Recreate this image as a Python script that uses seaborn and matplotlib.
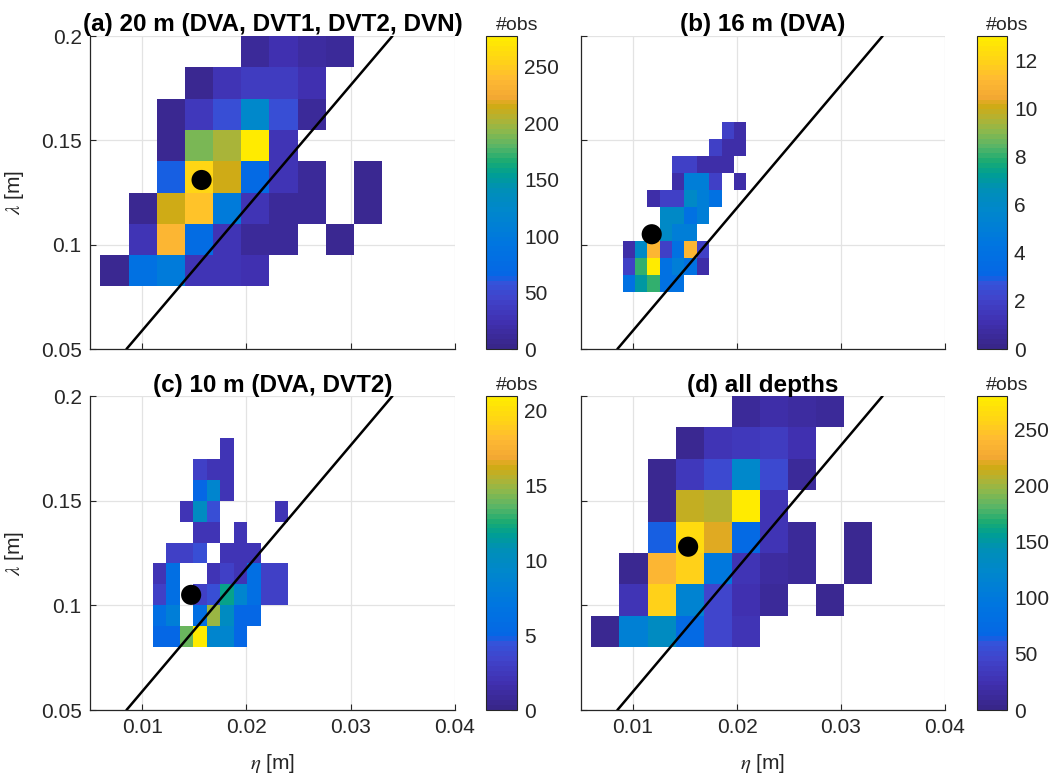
import numpy as np
import pandas as pd
import matplotlib
matplotlib.use("Agg")
import matplotlib.pyplot as plt
import seaborn as sns
from matplotlib.colors import LinearSegmentedColormap

# ---------------------------------------------------------------- data
# bin edges
eta_edges_20m = [0.0060, 0.0087, 0.0114, 0.0141, 0.0168, 0.0195,
                 0.0222, 0.0249, 0.0276, 0.0303, 0.0330]
lam_edges_20m = [0.080, 0.095, 0.110, 0.125, 0.140, 0.155, 0.170, 0.185, 0.200]
eta_edges_16m = [0.00900, 0.01019, 0.01138, 0.01257, 0.01376, 0.01495,
                 0.01614, 0.01733, 0.01852, 0.01971, 0.02090]
lam_edges_16m = [0.0771, 0.0853, 0.0934, 0.1016, 0.1098, 0.1180,
                 0.1261, 0.1343, 0.1425, 0.1506, 0.1588]
eta_edges_10m = [0.0110, 0.0123, 0.0136, 0.0149, 0.0162, 0.0175,
                 0.0188, 0.0201, 0.0214, 0.0227, 0.0240]
lam_edges_10m = [0.08, 0.09, 0.10, 0.11, 0.12, 0.13, 0.14, 0.15, 0.16, 0.17, 0.18]
eta_edges_all = eta_edges_20m
lam_edges_all = lam_edges_20m

# counts per cell, rows listed from the highest lambda bin down (0 = empty)
counts_20m = [
    [0, 0, 0, 0, 0, 10, 24, 14, 10, 0],
    [0, 0, 0, 8, 28, 38, 38, 22, 0, 0],
    [0, 0, 8, 32, 55, 125, 52, 10, 0, 0],
    [0, 0, 8, 190, 200, 274, 30, 0, 0, 0],
    [0, 0, 62, 258, 216, 72, 26, 10, 0, 8],
    [0, 8, 216, 243, 100, 28, 12, 12, 0, 8],
    [0, 30, 236, 75, 26, 12, 12, 0, 8, 0],
    [8, 85, 100, 26, 26, 24, 0, 0, 0, 0],
]
counts_16m = [
    [0, 0, 0, 0, 0, 0, 0, 0, 2, 1],
    [0, 0, 0, 0, 0, 0, 0, 2, 1, 1],
    [0, 0, 0, 0, 2, 2, 1, 1, 1, 0],
    [0, 0, 0, 0, 1, 5, 5, 2, 0, 1],
    [0, 0, 1, 2, 2, 6, 5, 4, 0, 0],
    [0, 0, 0, 6, 6, 4, 5, 0, 0, 0],
    [0, 0, 0, 6, 5, 5, 0, 0, 0, 0],
    [1, 6, 11, 2, 4, 11, 2, 0, 0, 0],
    [2, 8, 13, 4, 5, 4, 1, 0, 0, 0],
    [4, 7, 8, 4, 4, 0, 0, 0, 0, 0],
]
counts_10m = [
    [0, 0, 0, 0, 0, 2, 0, 0, 0, 0],
    [0, 0, 0, 3, 2, 2, 0, 0, 0, 0],
    [0, 0, 0, 5, 9, 2, 0, 0, 0, 0],
    [0, 0, 2, 10, 4, 0, 0, 0, 0, 2],
    [0, 0, 0, 2, 2, 0, 2, 0, 0, 0],
    [0, 3, 3, 4, 0, 2, 2, 2, 0, 0],
    [2, 6, 0, 0, 2, 3, 2, 6, 3, 3],
    [3, 6, 0, 3, 4, 12, 9, 6, 3, 3],
    [6, 8, 0, 6, 15, 10, 5, 5, 0, 0],
    [5, 5, 14, 21, 9, 9, 5, 0, 0, 0],
]
counts_all = [
    [0, 0, 0, 0, 0, 10, 20, 14, 10, 0],
    [0, 0, 0, 8, 28, 34, 36, 24, 0, 0],
    [0, 0, 8, 32, 52, 125, 52, 12, 0, 0],
    [0, 0, 8, 212, 206, 278, 30, 0, 0, 0],
    [0, 0, 62, 266, 221, 74, 28, 12, 0, 8],
    [0, 8, 238, 258, 100, 28, 14, 12, 0, 8],
    [0, 30, 255, 118, 48, 26, 12, 0, 8, 0],
    [8, 110, 135, 70, 48, 28, 0, 0, 0, 0],
]

panel_titles = ["(a) 20 m (DVA, DVT1, DVT2, DVN)", "(b) 16 m (DVA)",
                "(c) 10 m (DVA, DVT2)", "(d) all depths"]
color_max = [277, 13, 21, 280]
cbar_ticks = [[0, 50, 100, 150, 200, 250], [0, 2, 4, 6, 8, 10, 12],
              [0, 5, 10, 15, 20], [0, 50, 100, 150, 200, 250]]

# mean point of each panel
mean_eta = [0.0157, 0.0118, 0.0147, 0.0153]
mean_lam = [0.131, 0.105, 0.105, 0.128]

# straight reference line (same in every panel)
line_eta = [0.0085, 0.0340]
line_lam = [0.050, 0.200]

x_ticks = [0.01, 0.02, 0.03, 0.04]
x_tick_labels = ["0.01", "0.02", "0.03", "0.04"]
y_ticks = [0.05, 0.10, 0.15, 0.20]
y_tick_labels = ["0.05", "0.1", "0.15", "0.2"]

# ---------------------------------------------------------------- style
sns.set_theme(style="white")
plt.rcParams["font.family"] = ["Liberation Sans", "DejaVu Sans"]
plt.rcParams["mathtext.fontset"] = "stix"

# parula-like colormap as it appears in the picture
cmap_anchors = [
    (0.00, (0.22, 0.15, 0.54)),
    (0.08, (0.25, 0.19, 0.69)),
    (0.16, (0.25, 0.27, 0.80)),
    (0.21, (0.20, 0.33, 0.86)),
    (0.23, (0.02, 0.40, 0.90)),
    (0.33, (0.00, 0.46, 0.88)),
    (0.44, (0.00, 0.53, 0.80)),
    (0.51, (0.00, 0.56, 0.72)),
    (0.56, (0.00, 0.62, 0.58)),
    (0.60, (0.10, 0.67, 0.45)),
    (0.65, (0.35, 0.71, 0.40)),
    (0.70, (0.55, 0.72, 0.30)),
    (0.74, (0.70, 0.70, 0.20)),
    (0.78, (0.82, 0.67, 0.08)),
    (0.81, (0.95, 0.66, 0.20)),
    (0.87, (1.00, 0.73, 0.20)),
    (0.92, (1.00, 0.82, 0.10)),
    (1.00, (1.00, 0.92, 0.00)),
]
parula = LinearSegmentedColormap.from_list("parula_like", cmap_anchors, N=64)

AX_COLOR = "#262626"
GRID_COLOR = "#e3e3e3"
TICK_FS = 15
TITLE_FS = 17.5


def to_frame(counts, eta_edges, lam_edges):
    n_rows = len(lam_edges) - 1
    recs = []
    for r, row in enumerate(counts):
        j = n_rows - 1 - r
        lam_c = 0.5 * (lam_edges[j] + lam_edges[j + 1])
        for i, n in enumerate(row):
            if n > 0:
                recs.append({"eta": 0.5 * (eta_edges[i] + eta_edges[i + 1]),
                             "lam": lam_c, "n": n})
    return pd.DataFrame(recs)


panel_counts = [counts_20m, counts_16m, counts_10m, counts_all]
panel_eta_edges = [eta_edges_20m, eta_edges_16m, eta_edges_10m, eta_edges_all]
panel_lam_edges = [lam_edges_20m, lam_edges_16m, lam_edges_10m, lam_edges_all]

W, H = 1056, 782
fig = plt.figure(figsize=(W / 100, H / 100), dpi=100)

# pixel boxes (left, top, right, bottom) of axes and colorbars
ax_boxes = [(90, 36, 455, 349), (581, 36, 945, 349),
            (90, 396, 455, 710), (581, 396, 945, 710)]
cb_boxes = [(486, 36, 517, 349), (977, 36, 1007, 349),
            (486, 396, 517, 710), (977, 396, 1007, 710)]


def frac(box):
    l, t, r, b = box
    return [l / W, 1 - b / H, (r - l) / W, (b - t) / H]


for k in range(4):
    ax = fig.add_axes(frac(ax_boxes[k]))
    cax = fig.add_axes(frac(cb_boxes[k]))
    df = to_frame(panel_counts[k], panel_eta_edges[k], panel_lam_edges[k])

    ax.set_axisbelow(True)
    ax.grid(True, color=GRID_COLOR, linewidth=0.9)

    sns.histplot(data=df, x="eta", y="lam", weights="n",
                 bins=(panel_eta_edges[k], panel_lam_edges[k]),
                 cmap=parula, vmin=0, vmax=color_max[k],
                 cbar=True, cbar_ax=cax, ax=ax, linewidth=0)

    sns.lineplot(x=line_eta, y=line_lam, color="black", linewidth=1.8,
                 ax=ax, zorder=3)
    sns.scatterplot(x=[mean_eta[k]], y=[mean_lam[k]], color="black", s=210,
                    edgecolor="none", ax=ax, zorder=4, legend=False)

    ax.set_xlim(0.005, 0.04)
    ax.set_ylim(0.05, 0.2)
    ax.set_xticks(x_ticks)
    ax.set_yticks(y_ticks)
    ax.grid(True, color=GRID_COLOR, linewidth=0.9)
    for s in ["top", "right"]:
        ax.spines[s].set_visible(False)
    for s in ["left", "bottom"]:
        ax.spines[s].set_color(AX_COLOR)
        ax.spines[s].set_linewidth(0.9)
    ax.tick_params(direction="in", length=4, width=0.8, color=AX_COLOR,
                   labelsize=TICK_FS, labelcolor=AX_COLOR, pad=6,
                   bottom=True, left=True)

    if k >= 2:
        ax.set_xticklabels(x_tick_labels)
        ax.set_xlabel(r"$\eta$ [m]", fontsize=TICK_FS, color=AX_COLOR)
        ax.xaxis.set_label_coords(0.5, -0.135)
    else:
        ax.set_xticklabels([])
        ax.set_xlabel("")
    if k % 2 == 0:
        ax.set_yticklabels(y_tick_labels)
        ax.set_ylabel(r"$\lambda$ [m]", fontsize=TICK_FS, color=AX_COLOR)
        ax.yaxis.set_label_coords(-0.175, 0.5)
    else:
        ax.set_yticklabels([])
        ax.set_ylabel("")

    ax.set_title(panel_titles[k], fontsize=TITLE_FS, fontweight="bold",
                 color="black", pad=3)

    # colorbar styling
    cax.set_yticks(cbar_ticks[k])
    cax.set_yticklabels([str(t) for t in cbar_ticks[k]])
    cax.tick_params(direction="in", length=4, width=0.8, color=AX_COLOR,
                    labelsize=TICK_FS, labelcolor=AX_COLOR, right=True,
                    left=False, pad=5)
    for sp in cax.spines.values():
        sp.set_edgecolor(AX_COLOR)
        sp.set_linewidth(0.8)
    cax.text(1.0, 1.006, "#obs", transform=cax.transAxes, ha="center",
             va="bottom", fontsize=14, color=AX_COLOR)

fig.savefig("out.png", dpi=100)
